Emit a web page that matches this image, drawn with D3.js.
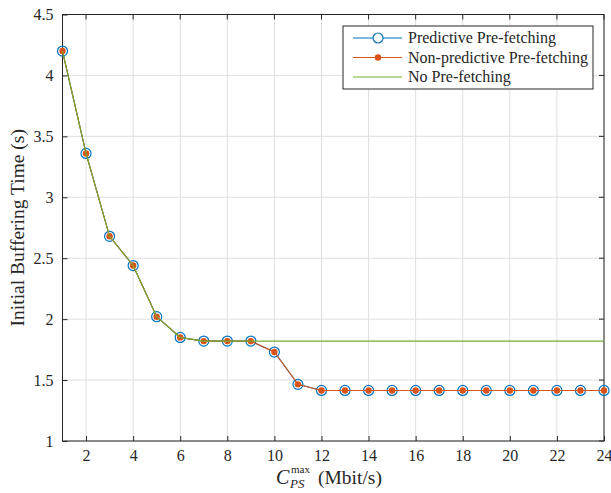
<!DOCTYPE html>
<html>
<head>
<meta charset="utf-8">
<script src="https://cdn.jsdelivr.net/npm/d3@7"></script>
<style>
  body { margin: 0; background: #fff; }
  svg { display: block; }
  text { font-family: "Liberation Serif", "DejaVu Serif", serif; fill: #262626; }
</style>
</head>
<body>
<div id="chart"></div>
<script>
// capacity values (Mbit/s)
const rates = d3.range(1, 25);
const predictive = [4.2, 3.36, 2.68, 2.44, 2.02, 1.85, 1.82, 1.82, 1.82, 1.73, 1.465, 1.415,
  1.415, 1.415, 1.415, 1.415, 1.415, 1.415, 1.415, 1.415, 1.415, 1.415, 1.415, 1.415];
const nonPredictive = [4.2, 3.36, 2.68, 2.44, 2.02, 1.85, 1.82, 1.82, 1.82, 1.73, 1.465, 1.415,
  1.415, 1.415, 1.415, 1.415, 1.415, 1.415, 1.415, 1.415, 1.415, 1.415, 1.415, 1.415];
const noPrefetch = [4.2, 3.36, 2.68, 2.44, 2.02, 1.85, 1.82, 1.82, 1.82, 1.82, 1.82, 1.82,
  1.82, 1.82, 1.82, 1.82, 1.82, 1.82, 1.82, 1.82, 1.82, 1.82, 1.82, 1.82];
const xTicks = d3.range(2, 25, 2);
const yTicks = [1, 1.5, 2, 2.5, 3, 3.5, 4, 4.5];
const legendNames = ['Predictive Pre-fetching', 'Non-predictive Pre-fetching', 'No Pre-fetching'];

const width = 611, height = 493;
const margin = {top: 14.5, right: 7, bottom: 52, left: 62.5};
const iw = width - margin.left - margin.right;
const ih = height - margin.top - margin.bottom;

const svg = d3.select('#chart').append('svg').attr('width', width).attr('height', height);
const g = svg.append('g').attr('transform', 'translate(' + margin.left + ',' + margin.top + ')');

const x = d3.scaleLinear().domain([1, 24]).range([0, iw]);
const y = d3.scaleLinear().domain([1, 4.5]).range([ih, 0]);

// grid
g.append('g').selectAll('line').data(xTicks).enter().append('line')
  .attr('x1', d => x(d)).attr('x2', d => x(d)).attr('y1', 0).attr('y2', ih)
  .attr('stroke', '#dfdfdf').attr('stroke-width', 1);
g.append('g').selectAll('line').data(yTicks).enter().append('line')
  .attr('x1', 0).attr('x2', iw).attr('y1', d => y(d)).attr('y2', d => y(d))
  .attr('stroke', '#dfdfdf').attr('stroke-width', 1);

// axes
let xAxis = g.append('g').attr('transform', 'translate(0,' + ih + ')')
  .call(d3.axisBottom(x).tickValues(xTicks).tickSizeInner(-5).tickSizeOuter(0).tickPadding(9));
let yAxis = g.append('g')
  .call(d3.axisLeft(y).tickValues(yTicks).tickSizeInner(-5).tickSizeOuter(0).tickPadding(9).tickFormat(d3.format('')));
[xAxis, yAxis].forEach(a => {
  a.select('.domain').remove();
  a.selectAll('line').attr('stroke', '#262626');
  a.selectAll('text').style('font-size', '16px').attr('fill', '#262626')
    .style('font-family', '"Liberation Serif", "DejaVu Serif", serif');
});
// top/right ticks (box on)
g.append('g').selectAll('line').data(xTicks).enter().append('line')
  .attr('x1', d => x(d)).attr('x2', d => x(d)).attr('y1', 0).attr('y2', 5).attr('stroke', '#262626');
g.append('g').selectAll('line').data(yTicks).enter().append('line')
  .attr('x1', iw).attr('x2', iw - 5).attr('y1', d => y(d)).attr('y2', d => y(d)).attr('stroke', '#262626');

g.append('rect').attr('x', 0).attr('y', 0).attr('width', iw).attr('height', ih)
  .attr('fill', 'none').attr('stroke', '#262626').attr('stroke-width', 1);

// series
const line = d3.line().x((d, i) => x(rates[i])).y(d => y(d));
const series = [
  {vals: predictive, color: '#0072BD', marker: 'circle'},
  {vals: nonPredictive, color: '#D95319', marker: 'dot'},
  {vals: noPrefetch, color: '#77AC30', marker: null}
];
series.forEach(s => {
  g.append('path').datum(s.vals).attr('d', line).attr('fill', 'none')
    .attr('stroke', s.color).attr('stroke-width', 1.1);
  if (s.marker === 'circle') {
    g.append('g').selectAll('circle').data(s.vals).enter().append('circle')
      .attr('cx', (d, i) => x(rates[i])).attr('cy', d => y(d)).attr('r', 5)
      .attr('fill', 'none').attr('stroke', s.color).attr('stroke-width', 1.2);
  } else if (s.marker === 'dot') {
    g.append('g').selectAll('circle').data(s.vals).enter().append('circle')
      .attr('cx', (d, i) => x(rates[i])).attr('cy', d => y(d)).attr('r', 3.2)
      .attr('fill', s.color);
  }
});

// legend
const lg = svg.append('g').attr('transform', 'translate(343,26)');
lg.append('rect').attr('width', 250).attr('height', 63).attr('fill', '#fff')
  .attr('stroke', '#262626').attr('stroke-width', 1);
legendNames.forEach((name, i) => {
  const yy = 12 + i * 19.5;
  const s = series[i];
  lg.append('line').attr('x1', 10).attr('x2', 59).attr('y1', yy).attr('y2', yy)
    .attr('stroke', s.color).attr('stroke-width', 1.1);
  if (s.marker === 'circle') {
    lg.append('circle').attr('cx', 35).attr('cy', yy).attr('r', 5)
      .attr('fill', '#fff').attr('stroke', s.color).attr('stroke-width', 1.2);
  } else if (s.marker === 'dot') {
    lg.append('circle').attr('cx', 35).attr('cy', yy).attr('r', 3.2).attr('fill', s.color);
  }
  lg.append('text').attr('x', 65).attr('y', yy + 5).style('font-size', '16px').text(name);
});

// labels
svg.append('text').attr('transform', 'translate(24,' + (margin.top + ih / 2) + ') rotate(-90)')
  .attr('text-anchor', 'middle').style('font-size', '19.5px').text('Initial Buffering Time (s)');

const xlx = 276, xly = 484;
svg.append('text').attr('x', xlx).attr('y', xly).style('font-size', '20px')
  .style('font-style', 'italic').text('C');
svg.append('text').attr('x', xlx + 15).attr('y', xly - 11).style('font-size', '11px').text('max');
svg.append('text').attr('x', xlx + 14).attr('y', xly + 4).style('font-size', '13px')
  .style('font-style', 'italic').text('PS');
svg.append('text').attr('x', xlx + 42).attr('y', xly).style('font-size', '19.5px').text('(Mbit/s)');
</script>
</body>
</html>
